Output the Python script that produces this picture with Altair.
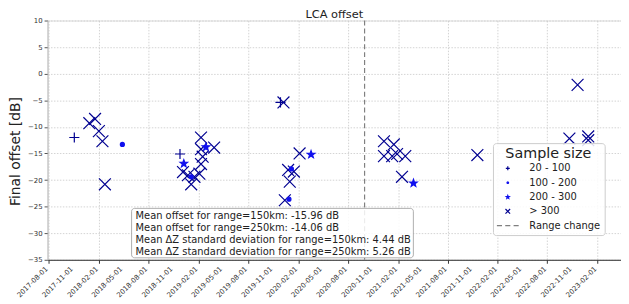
import math
import altair as alt
import pandas as pd

# ---------------- data ----------------
dates = [
    "2017-11-03", "2017-12-28", "2018-01-18", "2018-02-01", "2018-02-14", "2018-02-23",
    "2018-04-28", "2018-11-25", "2018-12-06", "2018-12-24", "2019-01-17", "2019-01-05",
    "2019-01-05", "2019-02-04", "2019-02-10", "2019-02-10", "2019-02-10", "2019-03-30",
    "2019-02-16", "2018-12-09", "2019-02-28",
    "2019-11-28", "2019-12-09", "2020-02-06", "2019-12-26", "2020-01-16", "2020-01-01",
    "2019-12-14", "2020-03-19", "2020-01-07", "2019-12-29",
    "2020-12-11", "2021-01-16", "2020-12-11", "2021-01-10", "2021-01-28", "2021-02-27",
    "2021-02-15", "2021-03-29", "2021-11-18",
    "2022-10-21", "2022-11-20", "2022-12-29", "2022-12-29",
]
offsets = [
    -12.0, -9.3, -8.5, -10.8, -12.7, -20.8,
    -13.3, -15.1, -18.5, -19.1, -19.4, -20.8,
    -19.4, -18.8, -17.0, -12.0, -14.2, -13.9,
    -15.6, -16.9, -13.8,
    -5.4, -5.4, -15.0, -18.1, -18.4, -20.3,
    -23.8, -15.2, -17.9, -23.6,
    -12.7, -13.3, -15.5, -15.5, -15.1, -15.5,
    -19.4, -20.6, -15.3,
    -12.2, -2.1, -11.8, -12.5,
]
sample_sizes = [
    "20 - 100", "> 300", "> 300", "> 300", "> 300", "> 300",
    "100 - 200", "20 - 100", "> 300", "> 300", "> 300", "> 300",
    "100 - 200", "> 300", "> 300", "> 300", "> 300", "> 300",
    "> 300", "200 - 300", "200 - 300",
    "20 - 100", "> 300", "> 300", "> 300", "> 300", "> 300",
    "> 300", "200 - 300", "100 - 200", "100 - 200",
    "> 300", "> 300", "> 300", "> 300", "> 300", "> 300",
    "> 300", "200 - 300", "> 300",
    "> 300", "> 300", "> 300", "> 300",
]
categories = ["20 - 100", "100 - 200", "200 - 300", "> 300", "Range change"]

range_change_dates = ["2020-10-01"]

tick_dates = [
    "2017-08-01", "2017-11-01", "2018-02-01", "2018-05-01", "2018-08-01", "2018-11-01",
    "2019-02-01", "2019-05-01", "2019-08-01", "2019-11-01", "2020-02-01", "2020-05-01",
    "2020-08-01", "2020-11-01", "2021-02-01", "2021-05-01", "2021-08-01", "2021-11-01",
    "2022-02-01", "2022-05-01", "2022-08-01", "2022-11-01", "2023-02-01",
]
y_ticks = [-35, -30, -25, -20, -15, -10, -5, 0, 5, 10]
x_domain = ["2017-07-28", "2023-04-28"]

chart_title = "LCA offset"
stats_lines = [
    "Mean offset for range=150km: -15.96 dB",
    "Mean offset for range=250km: -14.06 dB",
    "Mean \u0394Z standard deviation for range=150km: 4.44 dB",
    "Mean \u0394Z standard deviation for range=250km: 5.26 dB",
]

# ---------------- helpers ----------------
def ms(s):
    return int(pd.Timestamp(s, tz="UTC").timestamp() * 1000)

def star_path(R, r):
    pts = []
    for i in range(10):
        a = math.radians(-90 + 36 * i)
        rad = R if i % 2 == 0 else r
        pts.append(f"{rad*math.cos(a):.3f},{rad*math.sin(a):.3f}")
    return "M" + "L".join(pts) + "Z"

plus_path = "M-0.85,0H0.85M0,-0.85V0.85"
circle_path = "M0.34,0A0.34,0.34 0 1,1 -0.34,0A0.34,0.34 0 1,1 0.34,0Z"
x_path = "M-1,-1L1,1M-1,1L1,-1"
dash_path = "M-4.7,0H-2.5M-1.1,0H1.1M2.5,0H4.7"
shape_range = [plus_path, circle_path, star_path(0.66, 0.27), x_path, dash_path]
color_range = ["#000090", "#1010ee", "#1010ee", "#000090", "#808080"]

FONT = "DejaVu Sans"
PLOT_W = 580
PLOT_H = 242

points_df = pd.DataFrame({"date": dates, "offset": offsets, "size": sample_sizes})
rule_df = pd.DataFrame({"date": range_change_dates})
text_df = pd.DataFrame({"t": ["\n".join(stats_lines)]})
title_df = pd.DataFrame({"t": [chart_title]})
tick_df = pd.DataFrame({"date": tick_dates, "label": tick_dates})

grid_kw = dict(grid=True, gridColor="#c8c8c8", gridDash=[1.5, 1.5], gridWidth=0.8)

x_scale = alt.Scale(type="utc", domain=[ms(d) for d in x_domain])
x_enc = alt.X(
    "date:T",
    scale=x_scale,
    axis=alt.Axis(
        values=[ms(d) for d in tick_dates], labels=False,
        tickSize=3.5, tickColor="#333333",
        domainColor="#333333", domainWidth=1, title=None, **grid_kw,
    ),
)
y_enc = alt.Y(
    "offset:Q",
    scale=alt.Scale(domain=[-35, 10], nice=False, zero=False),
    axis=alt.Axis(
        values=y_ticks, labelFontSize=7, labelFont=FONT, labelColor="#333333",
        labelPadding=2, tickSize=3.5, tickColor="#555555", domainColor="#bbbbbb",
        title="Final offset [dB]", titleFontSize=14, titleFont=FONT,
        titleFontWeight="normal", titleColor="#222222", titleX=-25, titleY=132,
        **grid_kw,
    ),
)

legend = alt.Legend(
    orient="none", legendX=450.5, legendY=124, title="Sample size",
    titleFontSize=14.5, titleFont=FONT, titleFontWeight="normal", titleColor="#222222",
    titleAnchor="middle", titleAlign="center", titlePadding=2,
    labelFontSize=10, labelFont=FONT, labelColor="#222222", labelOffset=16.75,
    symbolSize=22, symbolOffset=6, symbolStrokeWidth=1.2,
    padding=4, rowPadding=4.5, fillColor="rgba(255,255,255,0.85)",
    strokeColor="#cccccc", cornerRadius=3,
)

points = alt.Chart(points_df).mark_point(
    filled=True, size=144, strokeWidth=1.2, opacity=1
).encode(
    x=x_enc,
    y=y_enc,
    shape=alt.Shape("size:N", title="Sample size",
                    scale=alt.Scale(domain=categories, range=shape_range), legend=legend),
    fill=alt.Fill("size:N", title="Sample size",
                  scale=alt.Scale(domain=categories, range=color_range)),
    stroke=alt.Stroke("size:N", title="Sample size",
                      scale=alt.Scale(domain=categories, range=color_range)),
)

rule = alt.Chart(rule_df).mark_rule(
    color="#808080", strokeDash=[5, 3], strokeWidth=1.2
).encode(x="date:T")

tick_labels = alt.Chart(tick_df).mark_text(
    angle=315, align="right", baseline="middle", fontSize=7, font=FONT,
    color="#333333", dx=-2.5
).encode(x="date:T", y=alt.value(PLOT_H + 6.5), text="label:N")

box = alt.Chart(text_df).mark_rect(
    fill="white", fillOpacity=0.85, stroke="#999999", strokeWidth=0.8, cornerRadius=3
).encode(x=alt.value(85), x2=alt.value(370), y=alt.value(190), y2=alt.value(240))

stats = alt.Chart(text_df).mark_text(
    align="left", baseline="top", lineBreak="\n", lineHeight=12,
    fontSize=10, font=FONT, color="#222222"
).encode(x=alt.value(89), y=alt.value(193), text="t:N")

title_text = alt.Chart(title_df).mark_text(
    align="center", baseline="alphabetic", fontSize=11.5, font=FONT, color="#222222"
).encode(x=alt.value(PLOT_W / 2), y=alt.value(-2.5), text="t:N")

chart = alt.layer(points, rule, tick_labels, box, stats, title_text).properties(
    width=PLOT_W, height=PLOT_H,
    autosize=alt.AutoSizeParams(type="none"),
    padding={"left": 40, "top": 11, "right": 0, "bottom": 40},
).configure_view(stroke="#d0d0d0").configure(font=FONT)

chart.save("out.html", embed_options={"renderer": "svg", "actions": False})
